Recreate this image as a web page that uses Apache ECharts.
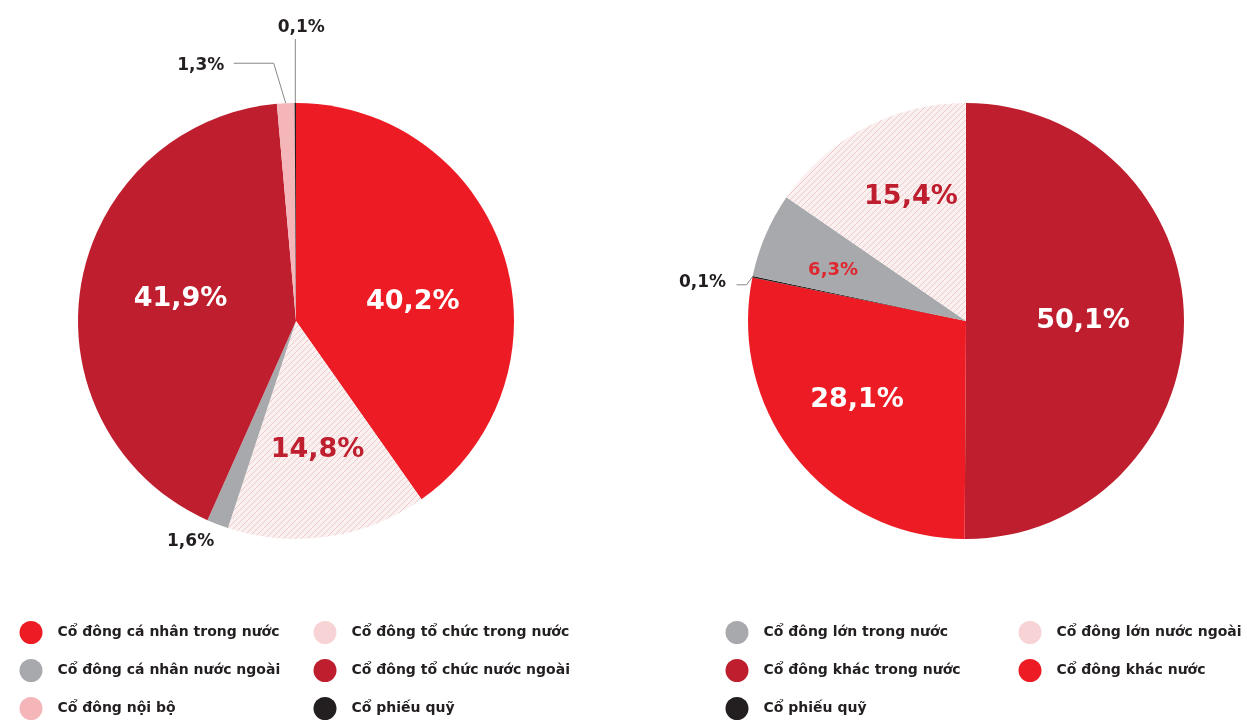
<!DOCTYPE html>
<html>
<head>
<meta charset="utf-8">
<script src="https://cdn.jsdelivr.net/npm/echarts@6/dist/echarts.min.js"></script>
<style>
html,body{margin:0;padding:0;background:#fff;}
#chart{width:1247px;height:722px;}
</style>
</head>
<body>
<div id="chart"></div>
<script>
// ---- Data ----
const leftCategories = ['Cổ đông cá nhân trong nước','Cổ đông tổ chức trong nước','Cổ đông cá nhân nước ngoài','Cổ đông tổ chức nước ngoài','Cổ đông nội bộ','Cổ phiếu quỹ'];
const leftValues = [40.2, 14.8, 1.6, 41.9, 1.3, 0.1];
const rightCategories = ['Cổ đông khác trong nước','Cổ đông khác nước','Cổ phiếu quỹ','Cổ đông lớn trong nước','Cổ đông lớn nước ngoài'];
const rightValues = [50.1, 28.1, 0.1, 6.3, 15.4];
const leftLegendCol1 = ['Cổ đông cá nhân trong nước','Cổ đông cá nhân nước ngoài','Cổ đông nội bộ'];
const leftLegendCol2 = ['Cổ đông tổ chức trong nước','Cổ đông tổ chức nước ngoài','Cổ phiếu quỹ'];
const rightLegendCol1 = ['Cổ đông lớn trong nước','Cổ đông khác trong nước','Cổ phiếu quỹ'];
const rightLegendCol2 = ['Cổ đông lớn nước ngoài','Cổ đông khác nước'];

// ---- Styles ----
const RED = '#ED1C24', DARK = '#BE1E2D', GRAY = '#A7A9AC', PINK = '#F4B6B9', BLACK = '#231F20', PALE = '#F7D3D5';
function hatch(){
  const c = document.createElement('canvas'); c.width = 6; c.height = 6;
  const g = c.getContext('2d');
  g.fillStyle = '#FBF0F0'; g.fillRect(0,0,6,6);
  g.strokeStyle = '#EDCBCC'; g.lineWidth = 1;
  g.beginPath(); g.moveTo(0,6); g.lineTo(6,0); g.moveTo(-1,1); g.lineTo(1,-1); g.moveTo(5,7); g.lineTo(7,5); g.stroke();
  return {image: c, repeat: 'repeat'};
}
const HATCH = hatch();
const FONT = 'DejaVu Sans';
const colorOf = {
  'Cổ đông cá nhân trong nước': RED, 'Cổ đông tổ chức trong nước': HATCH, 'Cổ đông cá nhân nước ngoài': GRAY,
  'Cổ đông tổ chức nước ngoài': DARK, 'Cổ đông nội bộ': PINK, 'Cổ phiếu quỹ': BLACK,
  'Cổ đông khác trong nước': DARK, 'Cổ đông khác nước': RED, 'Cổ đông lớn trong nước': GRAY, 'Cổ đông lớn nước ngoài': HATCH
};
const legendColor = {'Cổ đông tổ chức trong nước': PALE, 'Cổ đông lớn nước ngoài': PALE};
const fmt = v => v.toFixed(1).replace('.', ',') + '%';

const bigWhite = {show:true, position:'inside', color:'#fff', fontFamily:FONT, fontWeight:'bold', fontSize:27};
const bigDark = {show:true, position:'inside', color:DARK, fontFamily:FONT, fontWeight:'bold', fontSize:27};
const smallRed = {show:true, position:'inside', color:'#E0262E', fontFamily:FONT, fontWeight:'bold', fontSize:18};
const outside = {show:true, position:'outside', color:BLACK, fontFamily:FONT, fontWeight:'bold', fontSize:17};

const leftLabelKind = [bigWhite, bigDark, outside, bigWhite, outside, outside];
const rightLabelKind = [bigWhite, bigWhite, outside, smallRed, bigDark];

// nudges for label placement (layout only)
const leftNudge = [[10,15],[5,18],null,[-5,-4],null,null];
const rightNudge = [[5,0],[-22,8],null,[-30,-7],[-3,-25]];

function buildData(cats, vals, kinds){
  return cats.map((n,i) => ({
    name: n, value: vals[i],
    itemStyle: {color: colorOf[n]},
    label: Object.assign({formatter: fmt(vals[i])}, kinds[i]),
    labelLine: {show: kinds[i] === outside, lineStyle: {color: '#888', width: 1}}
  }));
}

function layoutFn(nudge, outsideRule){
  return function(p){
    const i = p.dataIndex;
    if (nudge[i]) return {dx: nudge[i][0], dy: nudge[i][1]};
    return outsideRule(p);
  };
}

const leftOutside = function(p){
  const pts = p.labelLinePoints; if (!pts) return {};
  const p0 = pts[0];
  if (p.dataIndex === 5) {
    return {x: p0[0] + 6, y: p0[1] - 75, align:'center', verticalAlign:'middle',
            labelLinePoints: [p0, [p0[0], p0[1]-40], [p0[0], p0[1]-64]]};
  }
  if (p.dataIndex === 4) {
    return {x: p0[0] - 85, y: p0[1] - 38, align:'center', verticalAlign:'middle',
            labelLinePoints: [p0, [p0[0]-12, p0[1]-40], [p0[0]-52, p0[1]-40]]};
  }
  if (p.dataIndex === 2) {
    return {x: p0[0] - 27, y: p0[1] + 17, align:'center', verticalAlign:'middle',
            labelLinePoints: [p0, p0, p0]};
  }
  return {};
};
const rightOutside = function(p){
  const pts = p.labelLinePoints; if (!pts) return {};
  const p0 = pts[0];
  return {x: p0[0] - 50, y: p0[1] + 6, align:'center', verticalAlign:'middle',
          labelLinePoints: [p0, [p0[0]-6, p0[1]+8], [p0[0]-16, p0[1]+8]]};
};

function legend(names, left){
  return {
    orient:'vertical', left: left, top: 621, height: 101, padding: 0,
    itemWidth: 23, itemHeight: 23, itemGap: 15,
    icon: 'circle', selectedMode: false,
    textStyle: {fontFamily: FONT, fontSize: 14, fontWeight: 'bold', color: BLACK, padding: [0,0,0,10]},
    data: names.map(n => legendColor[n] ? {name: n, itemStyle: {color: legendColor[n]}} : {name: n})
  };
}

const chart = echarts.init(document.getElementById('chart'), null, {renderer: 'canvas'});
chart.setOption({
  animation: false,
  backgroundColor: '#fff',
  legend: [legend(leftLegendCol1, 19.5), legend(leftLegendCol2, 313.5), legend(rightLegendCol1, 725.5), legend(rightLegendCol2, 1018.5)],
  series: [
    {type:'pie', center:[296,321], radius:[0,218], startAngle:90, clockwise:true, avoidLabelOverlap:false,
     data: buildData(leftCategories, leftValues, leftLabelKind), labelLayout: layoutFn(leftNudge, leftOutside)},
    {type:'pie', center:[966,321], radius:[0,218], startAngle:90, clockwise:true, avoidLabelOverlap:false,
     data: buildData(rightCategories, rightValues, rightLabelKind), labelLayout: layoutFn(rightNudge, rightOutside)}
  ]
});
</script>
</body>
</html>
